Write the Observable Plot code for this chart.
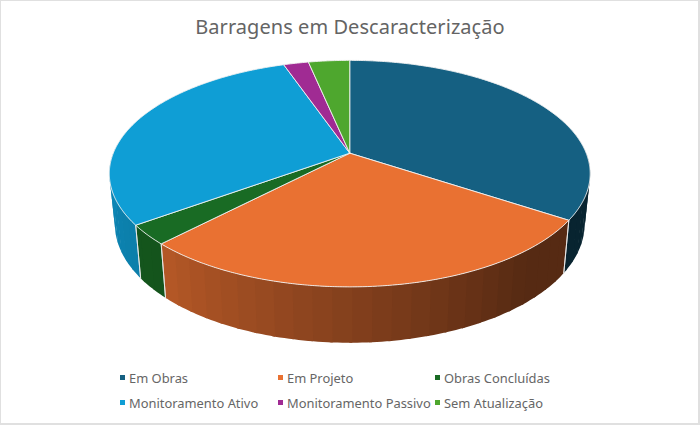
<!DOCTYPE html>
<html><head><meta charset="utf-8">
<script src="https://cdn.jsdelivr.net/npm/d3@7"></script>
<script src="https://cdn.jsdelivr.net/npm/@observablehq/plot@0.6"></script>
<style>
html,body{margin:0;padding:0;background:#fff}
#chart{position:relative;width:700px;height:425px;box-sizing:border-box;overflow:hidden;background:#fff;border:solid #e0e0e0;border-width:1px 2px 2px 1px}
#title{position:absolute;left:-1px;top:12px;width:700px;text-align:center;font:20px "Noto Sans",sans-serif;color:#646464;letter-spacing:.05px}
#plot{position:absolute;left:-1.5px;top:-1.5px}
.sw{position:absolute;width:5px;height:5px}
.lb{position:absolute;font:12.9px "Noto Sans",sans-serif;color:#666;white-space:nowrap}
</style></head><body>
<div id="chart"><div id="title"></div><div id="plot"></div></div>
<script>
const titleText = "Barragens em Descaracterização";
const categories = ["Em Obras","Em Projeto","Obras Concluídas","Monitoramento Ativo","Monitoramento Passivo","Sem Atualização"];
const shares = [34.3,27.9,2.8,29.7,2.0,3.3];
const colors = ["#156082","#E97132","#196B24","#0F9ED5","#A02B93","#4EA72E"];
const legendX = [120,278,435,120,278,435];
const legendY = [378,378,378,403,403,403];

// perspective view of the disc
const persp = -0.1806, depthBase = 49/109.8, depthFront = 7/109.8, shrink = 0.977;
const project = (deg) => {
  const t = deg*Math.PI/180, v = Math.sin(t), u = -Math.cos(t), w = 1+persp*u;
  return {x:v/w, y:u/w, u};
};
const lower = (p) => ({x:p.x*shrink, y:p.y+depthBase+depthFront*p.u});
const shadeScale = d3.scaleLinear().domain([90,140,224,270]).range([0.37,0.37,0.78,0.86]).clamp(true);
const darken = (c,f) => { const r=d3.rgb(c); return d3.rgb(r.r*f,r.g*f,r.b*f).formatHex(); };

let cum = 0;
const slices = categories.map((name,i)=>{const a=cum*3.6; cum+=shares[i]; return {name,color:colors[i],a0:a,a1:cum*3.6};});

const topPts=[], wallPts=[], edgePts=[];
slices.forEach(s=>{
  topPts.push({x:0,y:0,k:s.name,c:s.color});
  for(let a=s.a0;;a+=0.5){const d=Math.min(a,s.a1),p=project(d);topPts.push({x:p.x,y:p.y,k:s.name,c:s.color}); if(a>=s.a1)break;}
  topPts.push({x:0,y:0,k:s.name,c:s.color});
  // wall strips on the visible front; each laps under the next to avoid seams
  const from=Math.max(s.a0,90), to=Math.min(s.a1,270);
  if(to>from){
    for(let a=from;a<to;a+=4){
      const b=Math.min(a+4.6,to), k=s.name+a, c=darken(s.color,shadeScale(a+2));
      const pts=[];
      for(let d=a;d<b;d+=1)pts.push(project(d));
      pts.push(project(b));
      const low=pts.map(lower).reverse();
      [...pts,...low].forEach(p=>wallPts.push({x:p.x,y:p.y,k,c}));
    }
    [from,to].forEach(d=>{ if(d>90&&d<270){const p=project(d),l=lower(p);edgePts.push({x:p.x,y:p.y,k:s.name+d},{x:l.x,y:l.y,k:s.name+d});}});
  }
});

const plot = Plot.plot({
  width:700,height:425,margin:0,
  x:{domain:[-350/237,350/237],range:[0,700],axis:null},
  y:{domain:[-153/109.8,272/109.8],range:[0,425],axis:null},
  color:{type:"identity"},
  marks:[
    Plot.line(wallPts,{x:"x",y:"y",z:"k",fill:"c",stroke:"none",curve:"linear"}),
    Plot.line(edgePts,{x:"x",y:"y",z:"k",stroke:"#e6e6e6",strokeWidth:0.9,curve:"linear"}),
    Plot.line(topPts,{x:"x",y:"y",z:"k",fill:"c",stroke:"#f2f2f2",strokeWidth:0.9,curve:"linear"})
  ]
});
document.getElementById("plot").append(plot);
const chart=document.getElementById("chart");
document.getElementById("title").textContent=titleText;
categories.forEach((name,i)=>{
  const s=document.createElement("div");s.className="sw";s.style.cssText=`left:${legendX[i]-1}px;top:${legendY[i]-4}px;background:${colors[i]}`;chart.append(s);
  const l=document.createElement("div");l.className="lb";l.textContent=name;l.style.cssText=`left:${legendX[i]+8}px;top:${legendY[i]-10}px`;chart.append(l);
});
</script></body></html>
